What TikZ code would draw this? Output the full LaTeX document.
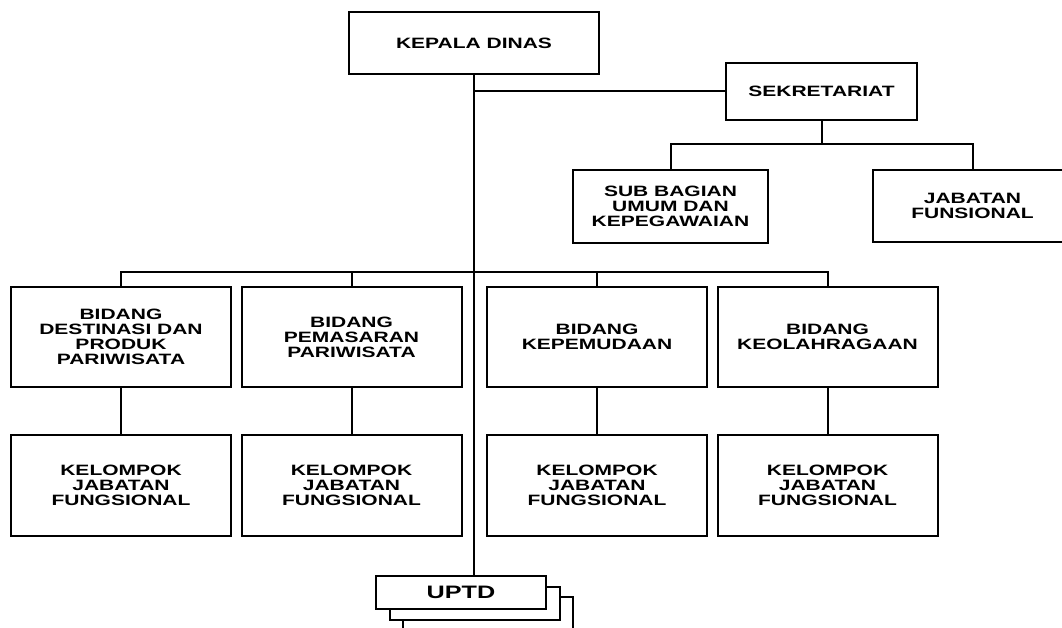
\documentclass[tikz,border=0pt]{standalone}
\usepackage{fontspec}
\newfontfamily\orgfont{Liberation Sans}[FakeStretch=1.4]
\usetikzlibrary{positioning}

\begin{document}
\begin{tikzpicture}[x=1pt,y=-1pt,line width=2pt,
    unit/.style={draw,fill=white,align=center,inner sep=0pt,
        font=\orgfont\bfseries\fontsize{15}{15}\selectfont},
    bidang/.style={unit,minimum width=220pt,minimum height=100pt},
    kelompok/.style={unit,minimum width=220pt,minimum height=101pt},
    uptdbox/.style={unit,minimum width=170pt,minimum height=33pt,
        font=\orgfont\bfseries\fontsize{18}{18}\selectfont}]
    \useasboundingbox (0,0) rectangle (1062,628);
    \clip (0,0) rectangle (1062,628);

    \node [unit,minimum width=250pt,minimum height=62pt] (kadis) at (474,43) {KEPALA DINAS};
    \node [unit,minimum width=191pt,minimum height=57pt] (sekr) at (821.5,91.5) {SEKRETARIAT};
    \node [unit,minimum width=195pt,minimum height=73pt] (subbag) at (670.5,206.5) {SUB BAGIAN\\UMUM DAN\\KEPEGAWAIAN};
    \node [unit,minimum width=199pt,minimum height=72pt] (jabfung) at (972.5,206) {JABATAN\\FUNSIONAL};

    % bidang
    \node [bidang] (b1) at (121,337) {BIDANG\\DESTINASI DAN\\PRODUK\\PARIWISATA};
    \node [bidang] (b2) at (351.5,337) {BIDANG\\PEMASARAN\\PARIWISATA};
    \node [bidang] (b3) at (597,337) {BIDANG\\KEPEMUDAAN};
    \node [bidang] (b4) at (827.5,337) {BIDANG\\KEOLAHRAGAAN};

    \node [kelompok,below=46pt of b1] (k1) {KELOMPOK\\JABATAN\\FUNGSIONAL};
    \node [kelompok,below=46pt of b2] (k2) {KELOMPOK\\JABATAN\\FUNGSIONAL};
    \node [kelompok,below=46pt of b3] (k3) {KELOMPOK\\JABATAN\\FUNGSIONAL};
    \node [kelompok,below=46pt of b4] (k4) {KELOMPOK\\JABATAN\\FUNGSIONAL};

    % uptd, stacked
    \node [uptdbox] (uptd3) at (488,613.5) {};
    \node [uptdbox] (uptd2) at (474.5,603.5) {};
    \node [uptdbox] (uptd) at (461,592.5) {UPTD};

    \draw (kadis.south) -- (kadis.south |- uptd.north);
    \draw (kadis.south |- sekr.west) -- (sekr.west);
    \draw (sekr.south) -- ++(0,23) coordinate (sj);
    \draw (subbag.north) |- (sj) -| (jabfung.north);

    \coordinate (bar) at (474,272);
    \draw (b1.north) |- (bar) -| (b4.north);
    \draw (b2.north) -- (b2.north |- bar);
    \draw (b3.north) -- (b3.north |- bar);
    \foreach \i in {1,...,4}
        \draw (b\i.south) -- (k\i.north);
\end{tikzpicture}
\end{document}
